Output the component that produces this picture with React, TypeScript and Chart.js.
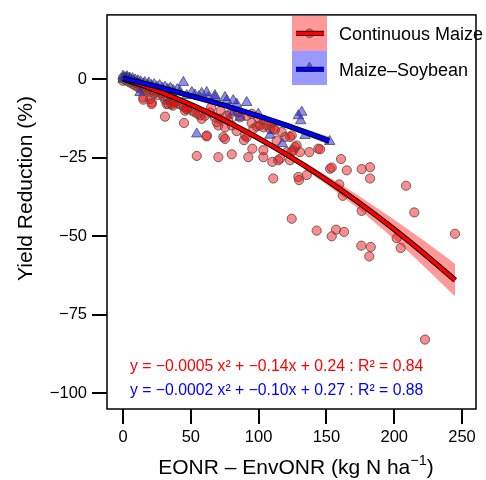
import React, { useEffect, useRef } from 'react';
import { Chart, registerables } from 'chart.js';

Chart.register(...registerables);

const FONT = '"Liberation Sans", Arial, Helvetica, sans-serif';

// Axis ticks and ranges
const xTicks = [0, 50, 100, 150, 200, 250];
const yTicks = [0, -25, -50, -75, -100];
const xMin = -11.8;
const xMax = 260.3;
const yMin = -105;
const yMax = 20.5;

const seriesNames = ['Continuous Maize', 'Maize\u2013Soybean'];

// Continuous Maize observations [x, y]
const continuousMaize: [number, number][] = [
  [0, 0.5], [0, -0.5], [1, 0], [2, 0.8], [3, -0.5], [4, 0.3], [5, -1], [6, -0.4], [7, -1.5], [8, -0.8],
  [9, -2], [10, -1.2], [11, -2.5], [12, -1.5], [13, -3], [14, -2], [16, -2.8], [17, -3.5], [19, -3], [20, -4],
  [22, -3.5], [23, -4.5], [25, -4], [26, -5], [28, -4.5], [30, -5.5], [31, -6.5], [33, -6], [35, -6.8], [37, -6.2],
  [39, -7.2], [41, -7.8], [43, -8.2], [45, -8.8], [47, -9.5], [49, -9], [51, -10], [53, -10.5], [55, -11], [57, -11.5],
  [15, -5.8], [15, -6.5], [19.9, -6.3], [21.2, -7.4], [21.2, -7.9], [31, -11.9], [32.2, -7.9], [33.4, -7.9],
  [35.9, -7.9], [36.7, -8.4], [37.6, -7.4], [45, -13.9], [45.7, -10], [47, -9.5],
  [58, -12.6], [60.5, -11.6], [61.7, -17.9], [61.7, -18.2], [64.2, -10.6], [67.8, -12.1], [69.1, -13.7], [70.3, -14.7],
  [71.5, -12.6], [74, -18.4], [75.2, -15.3], [75.2, -19], [76.5, -11.6], [77.7, -13.2], [79, -11.1], [80.2, -14.7],
  [83.8, -16.5], [86.3, -12.1], [89.2, -19.4], [90, -17.9], [91.2, -11.6], [91.2, -18.4], [94.9, -13.9], [96.1, -15.8],
  [98.6, -15], [101, -14.7], [103.5, -15.3], [106, -14.7], [108.4, -15.8], [110.8, -15.8], [112.1, -16.1], [113.3, -19.5],
  [117, -16.8], [119.5, -18.4], [123.2, -18.4], [124.4, -17.9], [126.8, -21.6], [128.1, -21.1], [125.6, -22.6], [130.5, -23.2],
  [137.4, -23.2], [144, -22.1], [145.3, -22.3], [65, -9], [72, -10], [85, -10.5], [95, -11], [100, -12.5], [104, -13], [110, -14],
  [54.4, -24.4], [70.3, -24.8], [80.2, -23.9], [92.4, -24.8], [95.4, -22.1], [103.5, -24.8], [103.5, -22.6], [110.1, -26.3],
  [114.5, -25.8], [115.8, -25.3], [120.7, -23.2], [123.2, -25.8], [124.4, -23], [110.8, -31.6], [129.3, -31.1], [129.8, -32.1],
  [135.5, -30.5], [152.7, -28.5], [153.9, -28.1], [160.8, -25.4], [165, -29], [159.5, -33.5], [162, -37.1], [176, -41.9],
  [176, -28.6], [182.2, -28], [182.2, -31.6], [208.7, -33.9], [214.8, -42.4], [124.4, -44.4], [142.8, -48.2], [153.9, -50],
  [157.1, -47.9], [163, -48.6], [175.7, -53], [182.7, -53.4], [181.6, -56.4], [201.8, -50.6], [204.8, -53.7], [244.8, -49.2],
  [222.7, -82.9],
];

// Maize-Soybean observations [x, y]
const maizeSoybean: [number, number][] = [
  [0, 1], [0, 0], [1, 0.5], [2, 0.2], [3, 0.8], [4, -0.2], [5, 0.4], [6, -0.5], [7, 0.2], [8, -0.6],
  [9, -0.2], [10, -1], [11, -0.5], [12, -1.2], [13, -0.8], [15, -1.5], [16, -1], [18, -1.8], [19, -1.2], [21, -2],
  [23, -1.7], [25, -2.5], [27, -2], [29, -2.8], [31, -2.5], [33, -3.2], [35, -2.8], [37, -3.5], [40, -3.3], [42, -4],
  [44.5, -1.0], [47, -5.2], [50.7, -4.2], [53, -5], [56, -5.5], [58, -4.5],
  [61.7, -4.2], [62.9, -5.8], [67.8, -5.2], [67.8, -5.8], [75.2, -5.8], [76.5, -6.8], [81.3, -6.8], [83.8, -7.9],
  [91.2, -7.4], [99.8, -11.1], [81.1, -10.5], [86.3, -12.1], [108.4, -17.8], [12.5, -4.2], [54.4, -17.4],
  [131.8, -10.5], [131, -13.2], [129.3, -11.6], [134.2, -17.9], [117.5, -20.5], [152.4, -19.8],
];

// Fitted curves with confidence half-widths
const maizeFitX = [0, 20, 40, 60, 80, 100, 120, 140, 160, 180, 200, 220, 245];
const maizeFitY = [0.2, -2.8, -6.2, -10.0, -14.2, -18.8, -23.8, -29.2, -35.0, -41.2, -47.8, -54.8, -64.0];
const maizeFitHalf = [1.0, 0.8, 0.7, 0.6, 0.6, 0.7, 0.9, 1.2, 1.7, 2.3, 3.1, 4.0, 5.2];

const soyFitX = [0, 20, 40, 60, 80, 100, 120, 140, 152];
const soyFitY = [0.3, -1.8, -4.1, -6.5, -9.0, -11.7, -14.6, -17.7, -19.6];
const soyFitHalf = [0.8, 0.6, 0.5, 0.5, 0.5, 0.6, 0.8, 1.1, 1.3];

const maizeEquation = 'y = \u22120.0005 x\u00B2 + \u22120.14x + 0.24 : R\u00B2 = 0.84';
const soyEquation = 'y = \u22120.0002 x\u00B2 + \u22120.10x + 0.27 : R\u00B2 = 0.88';

const RED_FILL = 'rgba(255,0,0,0.45)';
const BLUE_FILL = 'rgba(0,0,255,0.45)';
const EDGE = 'rgba(80,80,80,0.85)';

const toPts = (xs: number[], ys: number[]) => xs.map((x, i) => ({ x, y: ys[i] }));

const decor = {
  id: 'decor',
  afterDraw(chart: any) {
    const { ctx, chartArea: a } = chart;
    ctx.save();
    // frame
    ctx.strokeStyle = '#000';
    ctx.lineWidth = 1.5;
    ctx.strokeRect(a.left, a.top, a.right - a.left, a.bottom - a.top);

    // legend
    ctx.fillStyle = 'rgba(255,0,0,0.4)';
    ctx.fillRect(292, 16, 35, 34.7);
    ctx.fillStyle = 'rgba(0,0,255,0.4)';
    ctx.fillRect(292, 50.7, 35, 34.3);
    ctx.beginPath();
    ctx.arc(309.5, 33.3, 4.3, 0, Math.PI * 2);
    ctx.fillStyle = RED_FILL;
    ctx.fill();
    ctx.strokeStyle = EDGE;
    ctx.lineWidth = 1;
    ctx.stroke();
    const legLine = (y: number, col: string) => {
      ctx.beginPath();
      ctx.moveTo(296, y);
      ctx.lineTo(324, y);
      ctx.strokeStyle = '#000';
      ctx.lineWidth = 5;
      ctx.stroke();
      ctx.beginPath();
      ctx.moveTo(296, y);
      ctx.lineTo(324, y);
      ctx.strokeStyle = col;
      ctx.lineWidth = 3.5;
      ctx.stroke();
    };
    legLine(33.3, '#ff0000');
    const r = 6;
    const cx = 309.5, cy = 68;
    ctx.beginPath();
    ctx.moveTo(cx, cy - r);
    ctx.lineTo(cx + r * 0.866, cy + r * 0.5);
    ctx.lineTo(cx - r * 0.866, cy + r * 0.5);
    ctx.closePath();
    ctx.fillStyle = BLUE_FILL;
    ctx.fill();
    ctx.strokeStyle = EDGE;
    ctx.lineWidth = 1;
    ctx.stroke();
    legLine(69.3, '#0000ff');

    ctx.fillStyle = '#000';
    ctx.font = `18px ${FONT}`;
    ctx.textAlign = 'left';
    ctx.textBaseline = 'alphabetic';
    ctx.fillText(seriesNames[0], 339, 39.5);
    ctx.fillText(seriesNames[1], 339, 75.5);

    // equations
    ctx.font = `15.75px ${FONT}`;
    ctx.fillStyle = '#ff0000';
    ctx.fillText(maizeEquation, 130, 370.5);
    ctx.fillStyle = '#0000ff';
    ctx.fillText(soyEquation, 130, 395);

    // x title
    ctx.fillStyle = '#000';
    const big = `21px ${FONT}`;
    const small = `14.5px ${FONT}`;
    const p1 = 'EONR \u2013 EnvONR (kg N ha';
    const sup = '\u22121';
    const p3 = ')';
    ctx.font = big;
    const w1 = ctx.measureText(p1).width;
    const w3 = ctx.measureText(p3).width;
    ctx.font = small;
    const w2 = ctx.measureText(sup).width;
    const total = w1 + w2 + w3;
    const x0 = 296 - total / 2;
    const by = 473.5;
    ctx.font = big;
    ctx.fillText(p1, x0, by);
    ctx.font = small;
    ctx.fillText(sup, x0 + w1, by - 8.5);
    ctx.font = big;
    ctx.fillText(p3, x0 + w1 + w2, by);

    // y title
    ctx.translate(31.5, 188.5);
    ctx.rotate(-Math.PI / 2);
    ctx.textAlign = 'center';
    ctx.font = big;
    ctx.fillText('Yield Reduction (%)', 0, 0);
    ctx.restore();
  },
};

export default function App() {
  const ref = useRef<HTMLCanvasElement | null>(null);
  useEffect(() => {
    document.body.style.margin = '0';
    if (!ref.current) return;
    const lineDs = (xs: number[], ys: number[], color: string, width: number, order: number) => ({
      type: 'line' as const,
      data: toPts(xs, ys),
      borderColor: color,
      borderWidth: width,
      pointRadius: 0,
      fill: false,
      tension: 0.3,
      order,
    });
    const maizeUpper = maizeFitY.map((v, i) => v + maizeFitHalf[i]);
    const maizeLower = maizeFitY.map((v, i) => v - maizeFitHalf[i]);
    const soyUpper = soyFitY.map((v, i) => v + soyFitHalf[i]);
    const soyLower = soyFitY.map((v, i) => v - soyFitHalf[i]);

    const chart = new Chart(ref.current, {
      type: 'scatter',
      data: {
        datasets: [
          lineDs(soyFitX, soyFitY, '#0000ff', 3.5, 0),
          lineDs(soyFitX, soyFitY, '#000000', 5.5, 1),
          lineDs(maizeFitX, maizeFitY, '#ff0000', 3.5, 2),
          lineDs(maizeFitX, maizeFitY, '#000000', 5.5, 3),
          {
            type: 'scatter',
            data: maizeSoybean.map(([x, y]) => ({ x, y })),
            pointStyle: 'triangle',
            pointRadius: 6,
            backgroundColor: BLUE_FILL,
            borderColor: EDGE,
            borderWidth: 1,
            order: 4,
          },
          {
            type: 'scatter',
            data: continuousMaize.map(([x, y]) => ({ x, y })),
            pointStyle: 'circle',
            pointRadius: 4.6,
            backgroundColor: RED_FILL,
            borderColor: EDGE,
            borderWidth: 1,
            order: 5,
          },
          {
            type: 'line',
            data: toPts(soyFitX, soyUpper),
            borderWidth: 0,
            pointRadius: 0,
            backgroundColor: 'rgba(0,0,255,0.4)',
            fill: '+1',
            tension: 0.3,
            order: 6,
          },
          {
            type: 'line',
            data: toPts(soyFitX, soyLower),
            borderWidth: 0,
            pointRadius: 0,
            fill: false,
            tension: 0.3,
            order: 7,
          },
          {
            type: 'line',
            data: toPts(maizeFitX, maizeUpper),
            borderWidth: 0,
            pointRadius: 0,
            backgroundColor: 'rgba(255,0,0,0.4)',
            fill: '+1',
            tension: 0.3,
            order: 8,
          },
          {
            type: 'line',
            data: toPts(maizeFitX, maizeLower),
            borderWidth: 0,
            pointRadius: 0,
            fill: false,
            tension: 0.3,
            order: 9,
          },
        ] as any,
      },
      options: {
        responsive: false,
        maintainAspectRatio: false,
        devicePixelRatio: 1,
        animation: false,
        layout: { padding: { top: 12, right: 10, left: 0, bottom: 0 } },
        plugins: {
          legend: { display: false },
          tooltip: { enabled: false },
        },
        scales: {
          x: {
            type: 'linear',
            min: xMin,
            max: xMax,
            afterBuildTicks: (s: any) => {
              s.ticks = xTicks.map((v) => ({ value: v }));
            },
            afterFit: (s: any) => {
              s.height = 71;
            },
            border: { display: false },
            grid: { drawOnChartArea: false, drawTicks: true, tickLength: 15, lineWidth: 2, color: '#000' },
            ticks: {
              font: { family: FONT, size: 16.5 },
              color: '#000',
              padding: 4,
              maxRotation: 0,
              callback: (v: any) => String(v),
            },
          },
          y: {
            type: 'linear',
            min: yMin,
            max: yMax,
            afterBuildTicks: (s: any) => {
              s.ticks = yTicks.map((v) => ({ value: v }));
            },
            afterFit: (s: any) => {
              s.width = 107;
            },
            border: { display: false },
            grid: { drawOnChartArea: false, drawTicks: true, tickLength: 15, lineWidth: 2, color: '#000' },
            ticks: {
              font: { family: FONT, size: 16.5 },
              color: '#000',
              padding: 5,
              callback: (v: any) => (v < 0 ? '\u2212' + Math.abs(v) : String(v)),
            },
          },
        },
      } as any,
      plugins: [decor],
    });
    return () => chart.destroy();
  }, []);
  return <canvas ref={ref} width={486} height={480} style={{ display: 'block' }} />;
}
